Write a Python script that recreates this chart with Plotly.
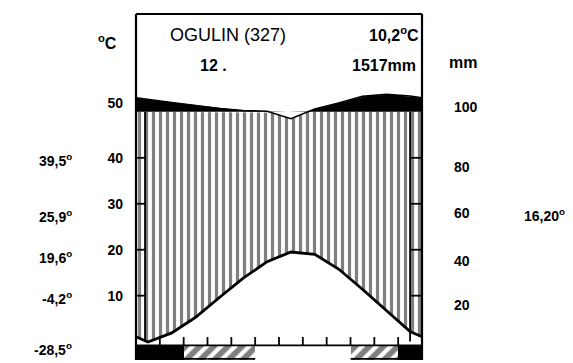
import numpy as np
import plotly.graph_objects as go

# Monthly climate normals for Ogulin, January .. December
temp_c = [-0.1, 1.9, 5.3, 9.6, 13.8, 17.4, 19.5, 19.0, 15.8, 11.4, 6.8, 2.2]
precip_mm = [154, 141, 128, 115, 106, 103, 97, 112, 139, 168, 176, 169]
# 2 = cold month (mean daily minimum below 0), 1 = frost possible, 0 = frost-free
frost_class = [2, 2, 1, 1, 1, 0, 0, 0, 0, 1, 1, 2]

temp_tick_text = ["10", "20", "30", "40", "50"]
precip_tick_text = ["20", "40", "60", "80", "100"]

station_label = "OGULIN (327)"
years_label = "12"
mean_temp_label = "10,2<sup>o</sup>C"
annual_precip_label = "1517mm"
left_extremes = ["39,5", "25,9", "19,6", "-4,2", "-28,5"]
right_extreme = "16,20"

# ---- scales -------------------------------------------------------------
Y_MIN, Y_MAX = -4.0, 71.3          # temperature units, 10 degC == 20 mm
PLOT_TOP, PLOT_BOTTOM = 14, 360    # pixel rows of the plotting area


def mm_to_scale(p):
    """Walter-Lieth precipitation scale: 2 mm per degC up to 100 mm, 20 mm per degC above."""
    p = np.asarray(p, dtype=float)
    return np.where(p <= 100, p / 2.0, 50.0 + (p - 100.0) / 20.0)


def row_to_y(row):
    return Y_MIN + (PLOT_BOTTOM - row) / (PLOT_BOTTOM - PLOT_TOP) * (Y_MAX - Y_MIN)


def col_to_paper(col):
    return (col - 136) / (422 - 136)


# Curves run through month centres and close on the Dec/Jan mean at both edges
x_nodes = np.r_[0.0, np.arange(12) + 0.5, 12.0]
t_edge = (temp_c[0] + temp_c[-1]) / 2
p_edge = (precip_mm[0] + precip_mm[-1]) / 2
t_nodes = np.r_[t_edge, temp_c, t_edge]
p_nodes = mm_to_scale(np.r_[p_edge, precip_mm, p_edge])

xs = np.union1d(np.linspace(0, 12, 1201), x_nodes)
t_line = np.interp(xs, x_nodes, t_nodes)
p_line = np.interp(xs, x_nodes, p_nodes)

fig = go.Figure()
clear = dict(width=0, color="rgba(0,0,0,0)")

# humid period: vertical hatching between temperature and precipitation (capped at 100 mm)
fig.add_trace(go.Scatter(x=xs, y=t_line, mode="lines", line=clear, hoverinfo="skip"))
fig.add_trace(go.Scatter(
    x=xs, y=np.minimum(p_line, 50), mode="lines", line=clear, fill="tonexty",
    fillcolor="white",
    fillpattern=dict(shape="|", fgcolor="black", bgcolor="white", size=7, solidity=0.46),
    hoverinfo="skip"))

# precipitation above 100 mm in solid black
fig.add_trace(go.Scatter(x=xs, y=np.full_like(xs, 50.0), mode="lines", line=clear,
                         hoverinfo="skip"))
fig.add_trace(go.Scatter(x=xs, y=np.maximum(p_line, 50), mode="lines", line=clear,
                         fill="tonexty", fillcolor="black", hoverinfo="skip"))

# curves
fig.add_trace(go.Scatter(x=x_nodes, y=p_nodes, mode="lines",
                         line=dict(color="black", width=1.6)))
fig.add_trace(go.Scatter(x=x_nodes, y=t_nodes, mode="lines",
                         line=dict(color="black", width=2.8)))

# frost band below the zero line
band_top, band_bottom = -0.8, Y_MIN
cold = [i + 0.5 for i, f in enumerate(frost_class) if f == 2]
frosty = [i + 0.5 for i, f in enumerate(frost_class) if f == 1]
fig.add_trace(go.Bar(x=cold, y=[band_top - band_bottom] * len(cold),
                     base=[band_bottom] * len(cold), width=1,
                     marker=dict(color="black", line=dict(width=0))))
fig.add_trace(go.Bar(x=frosty, y=[band_top - band_bottom] * len(frosty),
                     base=[band_bottom] * len(frosty), width=1,
                     marker=dict(color="white", line=dict(width=0),
                                 pattern=dict(shape="/", fgcolor="black", bgcolor="white",
                                              size=10, solidity=0.58))))

# outline of the band and month ticks
seg_x, seg_y = [0, 12, None], [band_top, band_top, None]
for i, f in enumerate(frost_class):
    if f == 1:
        seg_x += [i, i + 1, None]
        seg_y += [band_bottom + 0.25, band_bottom + 0.25, None]
for b in range(1, 12):
    seg_x += [b, b, None]
    seg_y += [band_top, 1.0, None]

# scale strips inside both side frames
for x_in, x_out in [(0.38, 0.0), (11.5, 12.0)]:
    seg_x += [x_in, x_in, None]
    seg_y += [0, 50, None]
    for v in (10, 20, 30, 40):
        seg_x += [x_out, x_in, None]
        seg_y += [v, v, None]
fig.add_trace(go.Scatter(x=seg_x, y=seg_y, mode="lines",
                         line=dict(color="black", width=1.8), hoverinfo="skip"))

# helper so the right-hand axis is drawn
fig.add_trace(go.Scatter(x=[0], y=[0], yaxis="y2", mode="none", hoverinfo="skip"))

tick_font = dict(family="Liberation Sans", size=14, color="black", weight="bold")

fig.update_layout(
    width=573, height=363,
    margin=dict(l=136, r=151, t=PLOT_TOP, b=363 - PLOT_BOTTOM),
    paper_bgcolor="white", plot_bgcolor="white",
    showlegend=False, barmode="overlay", bargap=0,
    xaxis=dict(range=[0, 12], visible=False, fixedrange=True),
    yaxis=dict(range=[Y_MIN, Y_MAX], showgrid=False, zeroline=False, showline=False,
               ticks="", tickvals=[10, 20, 30, 40, 52], ticktext=temp_tick_text,
               tickfont=tick_font, ticklabelstandoff=12),
    yaxis2=dict(range=[Y_MIN, Y_MAX], overlaying="y", side="right", showgrid=False,
                zeroline=False, showline=False, ticks="",
                tickvals=[8, 17.5, 28, 38, 51], ticktext=precip_tick_text,
                tickfont=tick_font, ticklabelstandoff=31),
)

# frame: top and both sides
frame = dict(color="black", width=2.2)
for x0, y0, x1, y1 in [(0, 1, 1, 1), (0, 0, 0, 1), (1, 0, 1, 1)]:
    fig.add_shape(type="line", xref="paper", yref="paper", x0=x0, y0=y0, x1=x1, y1=y1,
                  line=frame)

title_font = dict(family="Liberation Sans", size=18, color="black")
head_font = dict(family="Liberation Sans", size=16, color="black", weight="bold")
bold_font = dict(family="Liberation Sans", size=14, color="black", weight="bold")


def note(text, x, y, font, xanchor="center"):
    fig.add_annotation(text=text, x=x, y=y, xref="paper", yref="y", xanchor=xanchor,
                       yanchor="middle", showarrow=False, font=font)


note(station_label, col_to_paper(228), row_to_y(35), title_font)
note(mean_temp_label, col_to_paper(421), row_to_y(34), head_font, xanchor="right")
note(years_label + " .", col_to_paper(213), row_to_y(65), head_font)
note(annual_precip_label, col_to_paper(418), row_to_y(65), head_font, xanchor="right")
note("<sup>o</sup>C", col_to_paper(119), row_to_y(42), head_font, xanchor="right")
note("mm", col_to_paper(447), row_to_y(62), head_font, xanchor="left")

for label, row in zip(left_extremes, [160, 216, 257, 298, 349]):
    note(label + "<sup>o</sup>", col_to_paper(74), row_to_y(row), bold_font, xanchor="right")
note(right_extreme + "<sup>o</sup>", col_to_paper(522), row_to_y(215), bold_font,
     xanchor="left")

fig.write_html("out.html")
